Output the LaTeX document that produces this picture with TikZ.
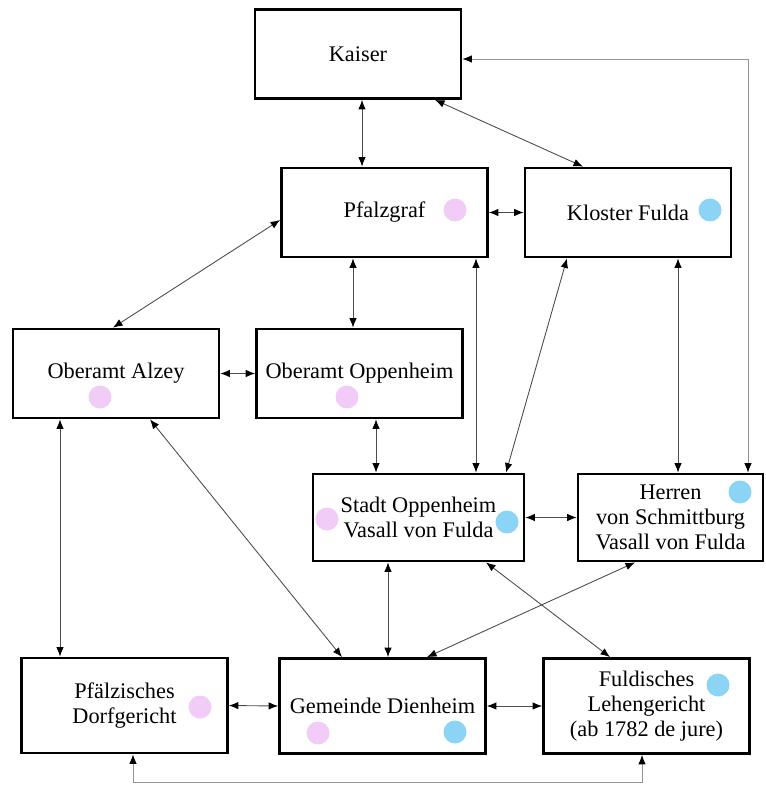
\documentclass[tikz,border=0pt]{standalone}
\usepackage{fontspec}
\setmainfont{Liberation Serif}
\usetikzlibrary{arrows.meta}
\definecolor{dotpink}{RGB}{241,204,247}
\definecolor{dotblue}{RGB}{140,212,245}

\begin{document}
\begin{tikzpicture}[x=0.02cm, y=-0.02cm,
	box/.style={draw=black, line width=1.6pt, minimum width=4.12cm, minimum height=1.78cm, align=center, inner sep=0pt},
	link/.style={draw=black!70, line width=0.5pt, {Latex[length=1.9mm,width=1.5mm,color=black]}-{Latex[length=1.9mm,width=1.5mm,color=black]}},
	graylink/.style={link, draw=black!42},
	pinkdot/.style={fill=dotpink},
	bluedot/.style={fill=dotblue},
	font=\fontsize{12.7}{14.2}\selectfont]

	%Frame
	\path[use as bounding box, fill=white] (0,0) rectangle (766,787);

	%Dots
	\fill[pinkdot] (455,210) circle (0.23cm);
	\fill[bluedot] (710,210) circle (0.23cm);
	\fill[pinkdot] (100,397) circle (0.23cm);
	\fill[pinkdot] (347,397) circle (0.23cm);
	\fill[pinkdot] (327,519) circle (0.23cm);
	\fill[bluedot] (507,522) circle (0.23cm);
	\fill[bluedot] (740,492) circle (0.23cm);
	\fill[pinkdot] (200,707) circle (0.23cm);
	\fill[pinkdot] (318,733) circle (0.23cm);
	\fill[bluedot] (455,732) circle (0.23cm);
	\fill[bluedot] (718,685) circle (0.23cm);

	%Top
	\node[box] (kaiser) at (358,54) {Kaiser};
	\node[box] (pfalz) at (384.5,212.5) {Pfalzgraf};
	\node[box] (kloster) at (628,212.5) {Kloster Fulda};

	%Oberaemter
	\node[box] (alzey) at (116,373.5) {Oberamt Alzey};
	\node[box] (oberopp) at (359.5,373.5) {Oberamt Oppenheim};

	%Vasallen
	\node[box, minimum width=4.22cm, minimum height=1.74cm] (stadt) at (418.5,517.5) {Stadt Oppenheim\\Vasall von Fulda};
	\node[box, minimum width=3.7cm, minimum height=1.74cm] (herren) at (670.5,517.5) {Herren\\von Schmittburg\\Vasall von Fulda};

	%Bottom
	\node[box, minimum height=1.9cm] (dorf) at (124.5,705.5) {Pfälzisches\\Dorfgericht};
	\node[box, minimum height=1.9cm] (gemeinde) at (382.5,706) {Gemeinde Dienheim};
	\node[box, minimum height=1.9cm] (lehen) at (646.5,706) {Fuldisches\\Lehengericht\\(ab 1782 de jure)};

	%Links
	\draw[link] (kaiser.south -| 362,0) -- (pfalz.north -| 362,0);
	\draw[link] (kaiser.south -| 435,0) -- (kloster.north -| 583,0);
	\draw[graylink] (kaiser.east |- 0,59) -| (herren.north -| 748,0);
	\draw[link] (pfalz.east) -- (kloster.west);
	\draw[link] (pfalz.west |- 0,220) -- (alzey.north -| 113,0);
	\draw[link] (pfalz.south -| 353,0) -- (oberopp.north -| 353,0);
	\draw[link] (pfalz.south -| 476,0) -- (stadt.north -| 476,0);
	\draw[link] (kloster.south -| 567,0) -- (stadt.north -| 506,0);
	\draw[link] (kloster.south -| 678,0) -- (herren.north -| 678,0);
	\draw[link] (alzey.east) -- (oberopp.west);
	\draw[link] (oberopp.south -| 376,0) -- (stadt.north -| 376,0);
	\draw[link] (alzey.south -| 60,0) -- (dorf.north -| 60,0);
	\draw[link] (alzey.south -| 150,0) -- (gemeinde.north -| 342,0);
	\draw[link] (stadt.east) -- (herren.west);
	\draw[link] (stadt.south -| 388,0) -- (gemeinde.north -| 388,0);
	\draw[link] (herren.south -| 635,0) -- (gemeinde.north -| 427,0);
	\draw[link] (stadt.south -| 486,0) -- (lehen.north -| 610,0);
	\draw[link] (dorf.east) -- (gemeinde.west);
	\draw[link] (gemeinde.east) -- (lehen.west);
	\draw[graylink] (dorf.south -| 133,0) -- (133,782) -| (lehen.south -| 642,0);

\end{tikzpicture}
\end{document}
